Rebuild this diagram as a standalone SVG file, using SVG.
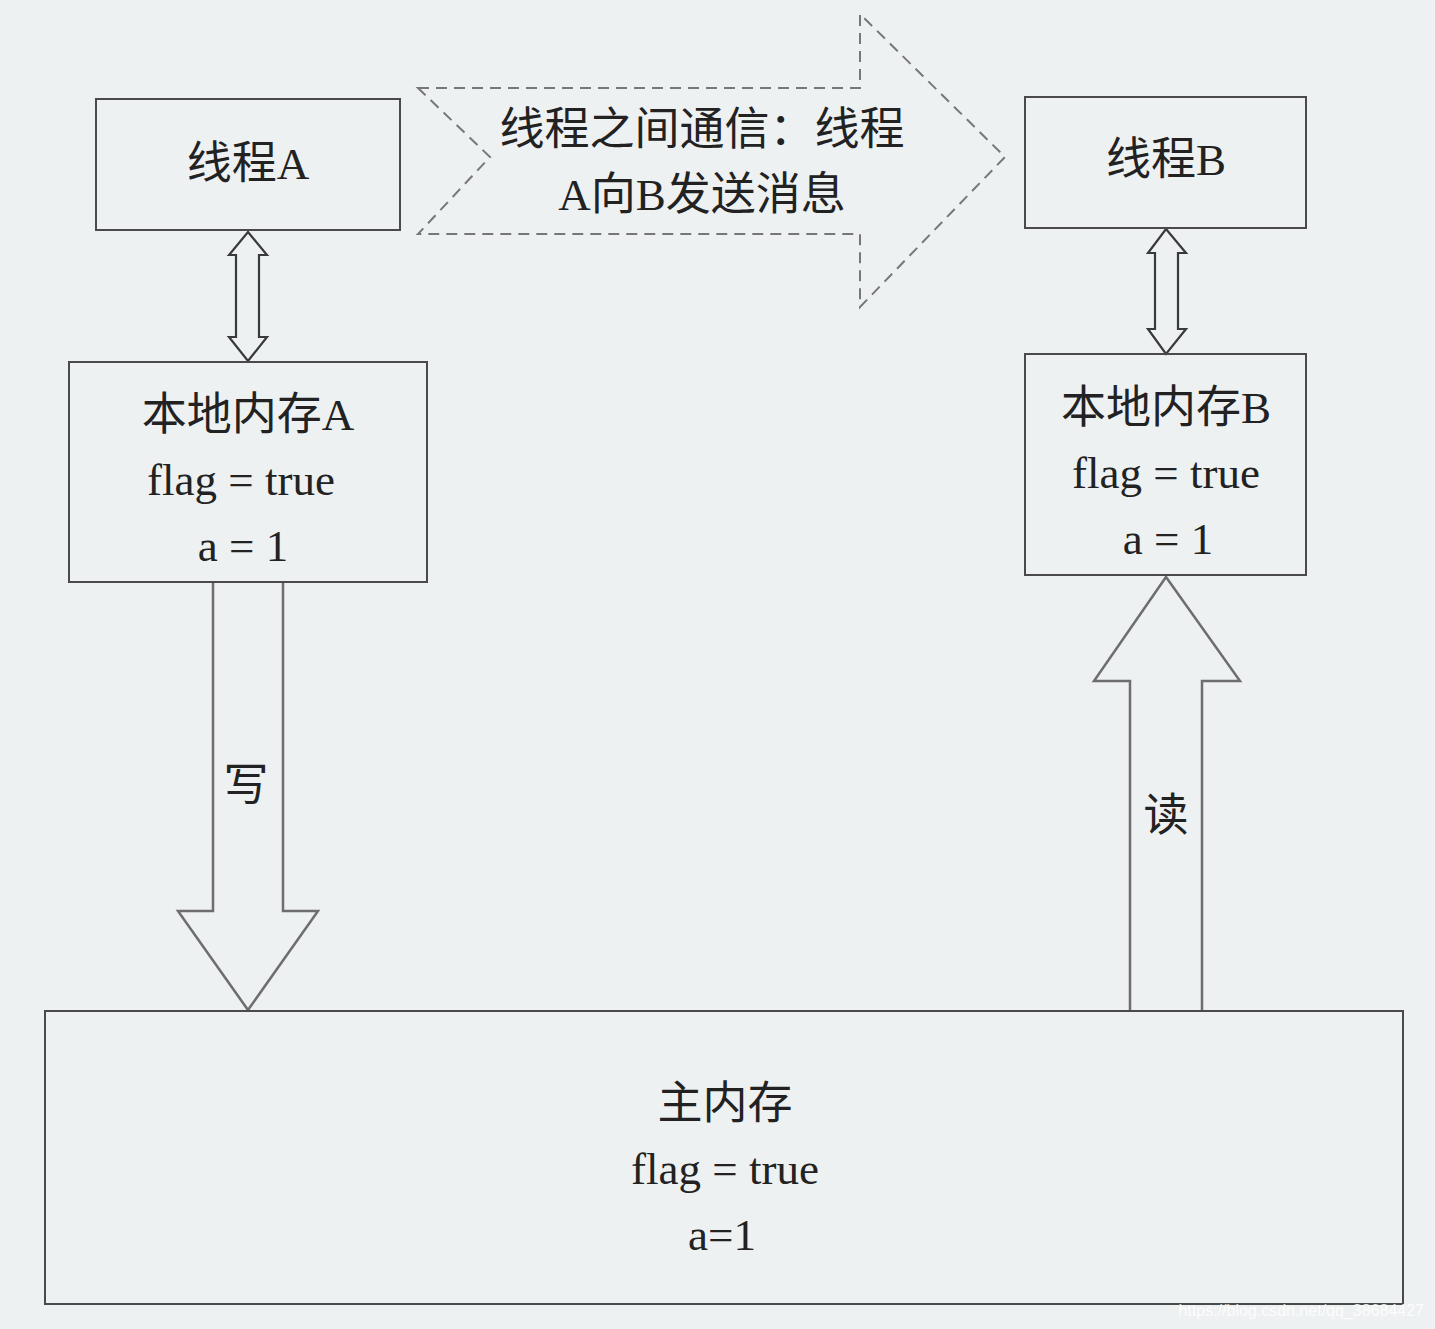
<svg xmlns="http://www.w3.org/2000/svg" width="1435" height="1329" viewBox="0 0 1435 1329">
<style>
.box{fill:none;stroke:#4a4a4a;stroke-width:2}
.arr{fill:none;stroke:#6e6e6e;stroke-width:2.5;stroke-linejoin:miter}
.dbl{fill:none;stroke:#3a3a3a;stroke-width:2.2}
.dash{fill:none;stroke:#777;stroke-width:2;stroke-dasharray:11 7}
.t{font-family:"Liberation Serif","Noto Sans CJK SC",serif;font-size:45px;fill:#222;text-anchor:middle}
.wm{font-family:"Liberation Sans",sans-serif;font-size:16px;fill:#ffffff;opacity:0.85;text-anchor:end}
</style>
<rect x="0" y="0" width="1435" height="1329" fill="#eef1f2"/>
<g id="connectors">
<path class="dash" d="M418,88 L860,88 L860,14 L1005,157 L860,307 L860,234 L418,234 L490,157 Z"/>
<path class="dbl" d="M248,232 L267,255 L259,255 L259,337 L267,337 L248,361 L229,337 L236,337 L236,255 L229,255 Z"/>
<path class="dbl" d="M1166,229 L1186,253 L1178,253 L1178,329 L1186,329 L1166,354 L1148,329 L1155,329 L1155,253 L1148,253 Z"/>
<path class="arr" d="M213,583 L213,911 L178,911 L248,1010 L318,911 L283,911 L283,583"/>
<path class="arr" d="M1130,1010 L1130,681 L1094,681 L1166,577 L1240,681 L1202,681 L1202,1010"/>
<text class="t" x="246" y="801">写</text>
<text class="t" x="1166" y="831">读</text>
</g>
<g id="msg">
<text class="t" x="702" y="145">线程之间通信：线程</text>
<text class="t" x="702" y="210">A向B发送消息</text>
</g>
<g id="threadA">
<rect class="box" x="96" y="99" width="304" height="131"/>
<text class="t" x="248" y="179">线程A</text>
</g>
<g id="threadB">
<rect class="box" x="1025" y="97" width="281" height="131"/>
<text class="t" x="1166" y="175">线程B</text>
</g>
<g id="localA">
<rect class="box" x="69" y="362" width="358" height="220"/>
<text class="t" x="248" y="430">本地内存A</text>
<text class="t" x="241" y="495">flag = true</text>
<text class="t" x="243" y="561">a = 1</text>
</g>
<g id="localB">
<rect class="box" x="1025" y="354" width="281" height="221"/>
<text class="t" x="1166" y="423">本地内存B</text>
<text class="t" x="1166" y="488">flag = true</text>
<text class="t" x="1168" y="554">a = 1</text>
</g>
<g id="main">
<rect class="box" x="45" y="1011" width="1358" height="293"/>
<text class="t" x="725" y="1119">主内存</text>
<text class="t" x="725" y="1184">flag = true</text>
<text class="t" x="722" y="1250">a=1</text>
</g>
<text class="wm" x="1424" y="1316">https://blog.csdn.net/qq_38684427</text>
</svg>
